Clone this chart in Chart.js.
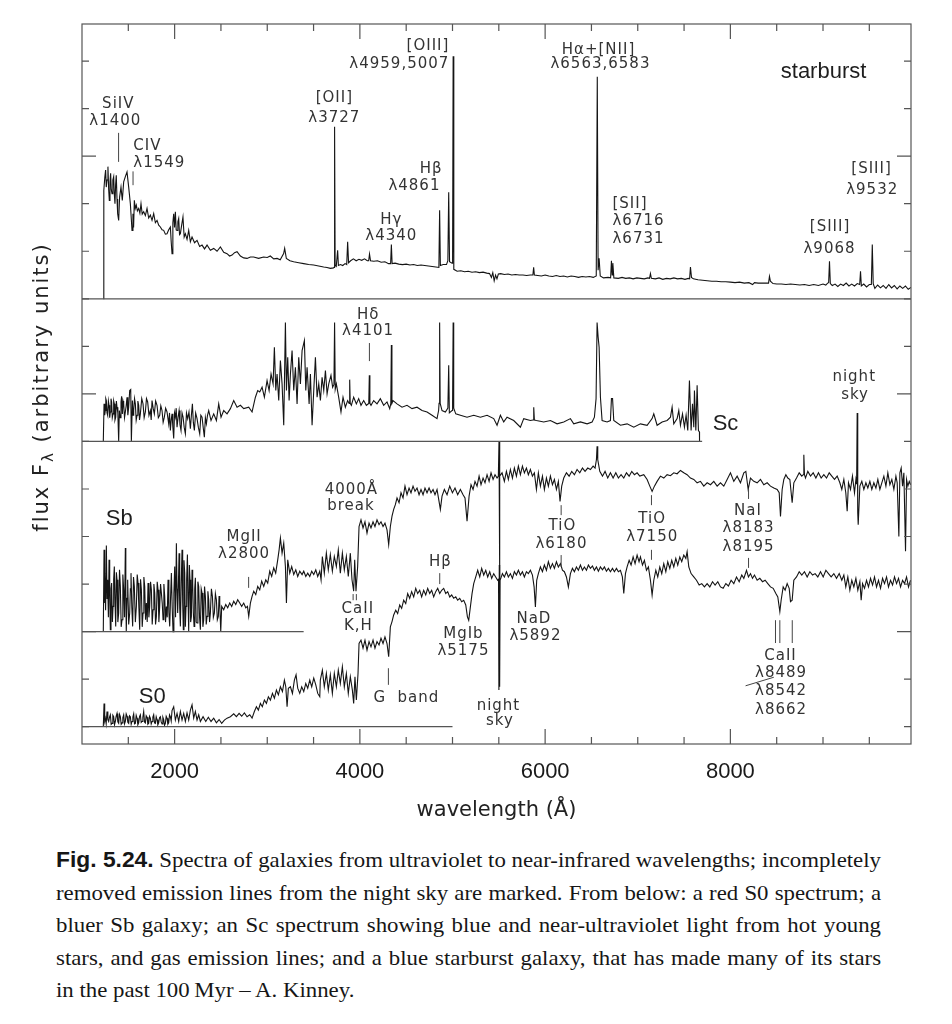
<!DOCTYPE html>
<html>
<head>
<meta charset="utf-8">
<title>Spectra of galaxies</title>
<script src="https://cdn.jsdelivr.net/npm/chart.js@4.4.0/dist/chart.umd.min.js"></script>
<style>
html, body { margin: 0; padding: 0; background: #fff; }
#wrap { position: relative; width: 952px; height: 1024px; overflow: hidden; }
#chart { position: absolute; left: 0; top: 0; }
#caption { position: absolute; left: 56px; top: 844px; font-family: 'Liberation Serif', 'Times New Roman', serif; font-size: 22px; line-height: 32.5px; color: #161616; }
#caption div { transform-origin: 0 0; white-space: nowrap; display: block; }
#caption span.ln { display: inline-block; }
#caption b { font-family: 'Liberation Sans', Arial, sans-serif; font-weight: bold; }
</style>
</head>
<body>
<div id="wrap">
  <canvas id="chart" width="952" height="830"></canvas>
  <div id="caption">
    <div><span class="ln"><b>Fig. 5.24.</b> Spectra of galaxies from ultraviolet to near-infrared wavelengths; incompletely</span></div>
    <div><span class="ln">removed emission lines from the night sky are marked. From below: a red S0 spectrum; a</span></div>
    <div><span class="ln">bluer Sb galaxy; an Sc spectrum showing blue and near-ultraviolet light from hot young</span></div>
    <div><span class="ln">stars, and gas emission lines; and a blue starburst galaxy, that has made many of its stars</span></div>
    <div><span class="ln last">in the past 100&#8201;Myr – A. Kinney.</span></div>
  </div>
</div>
<script>
// wavelength (Angstrom), flux above each spectrum's own baseline (arbitrary units)
const starburst = [
  [1230,0],[1234,0],[1237,2.28],[1246,2.55],[1255,2.71],[1262,2.35],[1270,2.50],[1280,2.78],[1288,2.30],[1295,2.07],
  [1302,2.45],[1309,2.64],[1316,2.30],[1324,2.21],[1333,2.50],[1342,2.57],[1349,2.20],[1356,2.00],[1363,2.40],[1370,2.60],
  [1378,2.10],[1385,1.79],[1396,1.65],[1406,2.14],[1421,2.35],[1435,2.07],[1450,2.46],[1468,2.57],[1486,2.67],[1504,2.35],
  [1522,2.00],[1540,1.44],[1550,1.79],[1557,1.50],[1565,2.07],[1575,1.90],[1586,1.97],[1598,1.85],[1612,1.90],[1625,1.80],
  [1637,2.00],[1650,1.78],[1666,1.83],[1684,1.75],[1702,1.90],[1720,1.70],[1738,1.76],[1756,1.65],[1774,1.79],[1792,1.60],
  [1810,1.65],[1828,1.55],[1846,1.51],[1864,1.45],[1882,1.44],[1900,1.36],[1918,1.37],[1936,1.45],[1954,1.51],[1963,1.20],
  [1972,0.95],[1981,1.60],[1990,1.79],[1999,1.50],[2008,1.83],[2017,1.45],[2026,1.44],[2035,1.62],[2044,1.69],[2053,1.35],
  [2062,1.37],[2076,1.55],[2090,1.72],[2103,1.30],[2116,1.37],[2134,1.25],[2152,1.44],[2170,1.20],[2188,1.30],[2215,1.18],
  [2242,1.23],[2270,1.10],[2296,1.13],[2323,1.05],[2350,1.13],[2386,1.02],[2422,1.06],[2458,1.00],[2494,1.09],[2530,0.98],
  [2566,0.95],[2593,0.90],[2620,0.92],[2647,0.97],[2674,0.99],[2710,0.90],[2746,0.86],[2782,0.85],[2818,0.88],[2853,0.88],
  [2907,0.85],[2961,0.88],[3000,0.87],[3033,0.90],[3070,0.84],[3106,0.85],[3140,0.82],[3177,0.95],[3188,1.06],[3206,0.85],
  [3245,0.80],[3285,0.78],[3340,0.76],[3393,0.74],[3447,0.72],[3501,0.71],[3555,0.69],[3609,0.67],[3645,0.66],[3681,0.64],
  [3715,0.65],[3721,0.66],[3727,3.62],[3733,0.70],[3745,0.68],[3760,1.02],[3768,0.70],[3790,0.72],[3815,0.70],[3840,0.74],
  [3858,0.72],[3868,1.20],[3878,0.76],[3900,0.80],[3930,0.84],[3960,0.80],[3990,0.83],[4020,0.81],[4050,0.84],[4080,0.80],
  [4095,0.80],[4104,0.94],[4115,0.80],[4150,0.79],[4190,0.80],[4230,0.77],[4270,0.78],[4310,0.74],[4332,0.74],[4340,1.14],
  [4348,0.74],[4380,0.75],[4420,0.73],[4460,0.72],[4500,0.73],[4540,0.71],[4580,0.72],[4620,0.70],[4660,0.71],[4700,0.70],
  [4740,0.69],[4780,0.68],[4820,0.67],[4853,0.66],[4861,1.86],[4869,0.70],[4900,0.72],[4935,0.72],[4950,0.80],[4959,2.24],
  [4968,0.78],[4995,0.75],[5001,0.80],[5007,5.10],[5014,0.62],[5050,0.58],[5090,0.59],[5130,0.57],[5170,0.58],[5210,0.56],
  [5250,0.57],[5290,0.55],[5330,0.56],[5370,0.54],[5400,0.53],[5420,0.45],[5435,0.55],[5450,0.38],[5465,0.50],[5480,0.42],
  [5495,0.52],[5520,0.53],[5560,0.51],[5600,0.52],[5640,0.50],[5680,0.51],[5720,0.50],[5760,0.50],[5800,0.49],[5840,0.50],
  [5868,0.50],[5876,0.66],[5884,0.50],[5920,0.49],[5960,0.48],[6000,0.50],[6040,0.48],[6080,0.47],[6120,0.49],[6160,0.47],
  [6200,0.48],[6240,0.46],[6280,0.48],[6320,0.47],[6360,0.45],[6400,0.47],[6440,0.46],[6480,0.47],[6520,0.45],[6552,0.48],
  [6563,4.67],[6572,0.60],[6583,0.85],[6595,0.48],[6630,0.44],[6680,0.45],[6707,0.44],[6716,0.80],[6724,0.50],[6731,0.75],
  [6742,0.44],[6790,0.43],[6830,0.45],[6870,0.43],[6910,0.44],[6950,0.42],[6990,0.44],[7030,0.43],[7070,0.42],[7110,0.44],
  [7127,0.43],[7137,0.53],[7147,0.43],[7190,0.42],[7230,0.44],[7270,0.41],[7310,0.43],[7350,0.42],[7390,0.44],[7430,0.42],
  [7470,0.43],[7510,0.41],[7545,0.43],[7560,0.42],[7569,0.67],[7580,0.45],[7600,0.42],[7650,0.40],[7700,0.39],[7750,0.38],
  [7800,0.37],[7850,0.37],[7900,0.36],[7950,0.36],[8000,0.35],[8050,0.34],[8100,0.35],[8150,0.33],[8200,0.34],[8240,0.30],
  [8260,0.34],[8300,0.33],[8350,0.33],[8400,0.33],[8412,0.33],[8422,0.47],[8432,0.37],[8460,0.32],[8500,0.31],[8550,0.31],
  [8600,0.30],[8650,0.31],[8700,0.30],[8750,0.29],[8800,0.30],[8850,0.28],[8900,0.30],[8950,0.28],[9000,0.31],[9030,0.29],
  [9050,0.33],[9061,0.34],[9070,0.79],[9079,0.32],[9100,0.28],[9130,0.31],[9160,0.26],[9190,0.31],[9220,0.28],[9250,0.33],
  [9280,0.27],[9310,0.31],[9340,0.27],[9370,0.32],[9396,0.30],[9405,0.58],[9414,0.27],[9440,0.31],[9470,0.25],[9500,0.30],
  [9522,0.30],[9532,1.14],[9542,0.32],[9560,0.22],[9590,0.29],[9620,0.23],[9650,0.28],[9680,0.22],[9710,0.30],[9740,0.23],
  [9770,0.28],[9800,0.21],[9830,0.27],[9860,0.22],[9890,0.27],[9920,0.20],[9950,0.24]
];

const sc = [
  [1230,0],[1234,0],[1238,0.79],[1245,0.55],[1252,0.65],[1257,0.90],[1263,0.86],[1270,0.60],[1277,0.55],[1285,0.85],
  [1292,0.76],[1299,0.50],[1306,0.62],[1313,0.90],[1320,0.83],[1327,0.50],[1335,0.58],[1342,0.85],[1349,0.79],[1356,0.45],
  [1364,0.51],[1371,0.85],[1378,0.72],[1387,0.60],[1396,0],[1403,0.65],[1412,0.50],[1421,0.83],[1428,0.95],[1436,0.58],
  [1443,0.85],[1450,0.79],[1459,0.50],[1468,0.62],[1477,0.75],[1486,0.93],[1495,0.55],[1504,0.72],[1515,1.07],[1526,1.09],
  [1533,0],[1544,0.86],[1551,0.55],[1558,0.65],[1567,0.90],[1576,0.79],[1585,0.45],[1594,0.55],[1603,0.85],[1612,0.76],
  [1621,0.45],[1630,0.58],[1645,0.90],[1659,0.79],[1671,0.50],[1684,0.62],[1696,0.90],[1709,0.83],[1723,0.55],[1738,0.65],
  [1747,0.45],[1756,0.86],[1768,0.70],[1781,0.58],[1795,0.85],[1810,0.76],[1824,0.50],[1839,0.55],[1851,0.75],[1864,0.65],
  [1876,0.40],[1889,0.51],[1903,0.70],[1918,0.62],[1936,0.37],[1945,0.60],[1954,0.23],[1963,0.45],[1972,0.58],[1981,0.30],
  [1990,0.06],[1999,0.60],[2008,0.51],[2017,0.70],[2026,0.30],[2037,0.50],[2048,0.65],[2058,0.35],[2069,0.23],[2080,0.60],
  [2091,0.51],[2103,0.30],[2116,0.16],[2128,0.60],[2141,0.48],[2155,0.62],[2170,0.27],[2181,0.55],[2192,0.79],[2202,0.40],
  [2213,0.23],[2227,0.60],[2242,0.48],[2256,0.30],[2271,0.16],[2283,0.55],[2296,0.51],[2308,0.30],[2321,0.09],[2332,0.50],
  [2343,0.37],[2355,0.55],[2368,0.65],[2393,0.44],[2422,0.58],[2451,0.44],[2476,0.79],[2501,0.51],[2530,0.65],[2566,0.58],
  [2602,0.69],[2638,0.86],[2674,0.72],[2710,0.76],[2746,0.69],[2800,0.72],[2836,0.62],[2872,0.93],[2897,1.07],[2919,1.04],
  [2944,1.14],[2969,0.93],[2998,1.28],[3020,1.07],[3041,1.42],[3063,1.21],[3077,1.98],[3092,1.07],[3106,1.42],[3124,0.86],
  [3142,1.70],[3160,1.21],[3178,0.34],[3196,2.50],[3207,1.07],[3221,1.77],[3236,0.86],[3250,1.42],[3268,1.91],[3286,1.07],
  [3304,1.56],[3322,0.79],[3340,1.77],[3358,1.21],[3376,1.91],[3401,2.12],[3416,1.07],[3430,1.56],[3452,0.79],[3466,1.42],
  [3484,0.34],[3502,1.07],[3520,1.77],[3538,0.93],[3556,1.21],[3574,0.86],[3592,1.35],[3610,1.07],[3628,1.49],[3646,1.00],
  [3664,1.21],[3688,1.39],[3706,1.14],[3720,1.20],[3727,2.50],[3734,1.10],[3746,1.21],[3771,0.93],[3796,0.62],[3818,0.93],
  [3843,0.72],[3868,0.86],[3884,0.80],[3890,1.30],[3896,0.80],[3908,0.76],[3933,0.93],[3962,0.79],[3987,0.90],[4012,0.76],
  [4041,0.86],[4070,0.76],[4096,0.80],[4102,1.39],[4108,0.80],[4120,0.76],[4149,0.86],[4185,0.79],[4221,0.90],[4257,0.76],
  [4293,0.83],[4322,0.69],[4334,0.80],[4340,2.03],[4346,0.80],[4358,0.86],[4401,0.79],[4455,0.72],[4509,0.76],[4563,0.69],
  [4617,0.72],[4671,0.65],[4725,0.62],[4779,0.55],[4833,0.48],[4850,0.65],[4855,0.80],[4861,2.50],[4867,0.80],[4887,0.65],
  [4923,0.62],[4950,0.70],[4959,1.60],[4966,0.60],[4995,0.65],[5001,0.80],[5007,2.50],[5013,0.70],[5035,0.58],[5085,0.55],
  [5157,0.51],[5229,0.55],[5301,0.51],[5373,0.55],[5445,0.48],[5481,0.34],[5517,0.55],[5553,0.41],[5589,0.51],[5661,0.44],
  [5733,0.30],[5769,0.48],[5841,0.44],[5870,0.45],[5877,0.72],[5884,0.45],[5906,0.44],[5985,0.41],[6057,0.44],[6129,0.37],
  [6201,0.41],[6273,0.48],[6309,0.37],[6381,0.41],[6453,0.37],[6507,0.41],[6532,0.51],[6550,0.90],[6561,2.50],[6572,2.20],
  [6583,1.98],[6597,0.93],[6615,0.44],[6669,0.41],[6705,0.44],[6716,0.90],[6728,0.90],[6741,0.44],[6813,0.34],[6885,0.37],
  [6957,0.30],[7029,0.37],[7101,0.34],[7155,0.48],[7173,0.58],[7209,0.34],[7263,0.41],[7317,0.44],[7353,0.51],[7371,0.72],
  [7389,0.37],[7425,0.48],[7443,0.65],[7461,0.34],[7483,0.58],[7504,0.30],[7522,0.55],[7540,0.23],[7558,1.28],[7576,0.23],
  [7591,0.79],[7605,0.30],[7612,1.07],[7627,0.23],[7641,1.18],[7655,0.23],[7666,0.20],[7667,0]
];

const sb = [
  [1230,0],[1234,0],[1238,1.72],[1243,0.60],[1248,1.23],[1255,0.45],[1263,1.81],[1270,0.70],[1277,1.09],[1285,0.30],
  [1292,1.51],[1299,0.80],[1306,0.04],[1313,0.90],[1320,1.02],[1328,0.20],[1335,0.53],[1342,1.10],[1349,1.37],[1357,0.60],
  [1364,0.11],[1371,1.25],[1378,1.09],[1387,0.20],[1396,0.39],[1405,1.30],[1414,0.95],[1423,0.10],[1432,0.25],[1441,1.20],
  [1450,0.88],[1459,0.30],[1468,1.76],[1473,0.90],[1478,0],[1486,0.70],[1493,1.09],[1504,0.15],[1515,0.39],[1522,0.90],
  [1529,1.23],[1538,0.50],[1547,0.11],[1556,1.15],[1565,0.95],[1576,0.20],[1587,0.53],[1596,1.20],[1605,1.02],[1614,0.50],
  [1623,0.04],[1632,1.10],[1641,0.88],[1650,0.10],[1659,0.39],[1668,1.15],[1677,0.95],[1686,0.25],[1695,0.60],[1704,0.20],
  [1713,1.02],[1722,0.30],[1731,0.53],[1740,1.05],[1749,0.88],[1758,0.15],[1767,0.46],[1776,1.00],[1785,0.81],[1794,0.15],
  [1803,0.32],[1812,1.05],[1821,0.88],[1830,0.20],[1839,0.53],[1848,1.00],[1857,0.81],[1866,0.60],[1875,0.25],[1884,1.00],
  [1893,0.74],[1902,0.20],[1911,0.53],[1920,0.30],[1929,1.09],[1938,0.40],[1947,0.11],[1956,0.70],[1965,1.23],[1974,0.50],
  [1983,0],[1992,0.80],[2001,1.37],[2010,0.30],[2019,1.86],[2026,0.90],[2033,0.39],[2040,0.90],[2048,1.65],[2055,0.50],
  [2062,0.11],[2071,1.00],[2080,1.72],[2087,0.60],[2094,0.04],[2101,1.50],[2109,1.23],[2116,0.10],[2123,0.53],[2130,1.10],
  [2138,1.62],[2145,0.70],[2152,0],[2159,1.40],[2166,1.09],[2173,0.20],[2181,0.32],[2188,1.30],[2195,1.02],[2202,0.40],
  [2210,0.11],[2217,0.90],[2224,1.13],[2233,0.20],[2242,0.18],[2251,1.05],[2260,0.95],[2269,0.30],[2278,0.04],[2287,0.90],
  [2296,0.81],[2305,0.10],[2314,0.25],[2323,0.95],[2332,0.74],[2341,0.15],[2350,0.32],[2359,0.85],[2368,0.67],[2377,0.20],
  [2386,0.39],[2397,0.90],[2408,0.74],[2418,0.30],[2429,0.39],[2440,0.80],[2451,0.67],[2461,0.25],[2472,0.32],[2480,0.75],
  [2487,0.60],[2498,0],[2508,0.53],[2530,0.46],[2552,0.57],[2573,0.50],[2595,0.60],[2616,0.53],[2638,0.64],[2660,0.57],
  [2681,0.67],[2703,0.60],[2724,0.53],[2746,0.60],[2768,0.50],[2786,0.53],[2800,0.32],[2818,0.60],[2836,0.74],[2854,0.85],
  [2876,0.78],[2897,0.95],[2919,0.88],[2940,1.06],[2962,0.95],[2984,1.09],[3005,1.02],[3027,1.27],[3048,1.16],[3070,1.34],
  [3091,1.23],[3113,1.51],[3128,1.72],[3142,1.97],[3160,1.65],[3178,1.86],[3196,1.37],[3207,0.60],[3221,1.51],[3243,1.23],
  [3264,1.37],[3286,1.20],[3308,1.30],[3329,1.16],[3351,1.27],[3376,1.20],[3394,1.27],[3416,1.16],[3437,1.23],[3459,1.16],
  [3480,1.27],[3502,1.20],[3524,1.30],[3545,1.16],[3567,1.27],[3581,1.09],[3595,1.58],[3616,1.23],[3638,1.65],[3659,1.30],
  [3681,1.62],[3703,1.27],[3724,1.58],[3746,1.37],[3767,1.72],[3789,1.23],[3811,1.65],[3832,1.30],[3854,1.58],[3875,1.16],
  [3897,1.65],[3915,1.09],[3933,0.85],[3944,1.51],[3958,0.85],[3976,1.37],[3991,2.21],[4012,2.35],[4034,2.18],[4055,2.31],
  [4077,2.07],[4099,2.28],[4120,2.18],[4142,2.31],[4163,2.21],[4185,2.35],[4207,2.25],[4228,2.31],[4250,2.21],[4271,2.28],
  [4293,2.14],[4311,1.83],[4329,2.21],[4347,2.43],[4365,2.57],[4383,2.67],[4401,2.81],[4423,2.71],[4444,2.92],[4466,2.81],
  [4487,3.06],[4509,2.88],[4531,3.02],[4552,2.92],[4574,3.06],[4595,2.95],[4617,3.02],[4639,2.88],[4660,2.99],[4682,2.88],
  [4703,3.02],[4725,2.92],[4747,3.02],[4768,2.92],[4790,2.99],[4811,2.88],[4833,2.99],[4851,2.78],[4869,2.57],[4887,2.85],
  [4912,2.99],[4941,2.88],[4970,3.06],[4999,2.92],[5027,3.02],[5056,2.88],[5085,2.99],[5114,2.88],[5135,2.81],[5157,2.32],
  [5179,2.85],[5200,3.09],[5222,2.99],[5243,3.16],[5265,3.06],[5287,3.27],[5308,3.09],[5330,3.23],[5351,3.13],[5373,3.30],
  [5395,3.16],[5416,3.34],[5438,3.20],[5459,3.30],[5481,3.23],[5495,3.27],[5502,4.00],[5507,1.15],[5512,3.27],[5535,3.34],
  [5560,3.16],[5582,3.37],[5603,3.20],[5625,3.41],[5647,3.23],[5668,3.44],[5690,3.27],[5711,3.48],[5733,3.30],[5755,3.48],
  [5776,3.34],[5798,3.44],[5819,3.30],[5841,3.41],[5863,3.27],[5884,3.34],[5906,2.99],[5927,3.34],[5949,3.06],[5971,3.27],
  [5992,2.99],[6014,3.23],[6035,3.06],[6057,3.27],[6079,3.09],[6100,3.20],[6122,2.99],[6143,3.16],[6161,2.74],[6179,3.06],
  [6201,3.23],[6230,3.34],[6259,3.27],[6287,3.37],[6316,3.30],[6345,3.41],[6374,3.34],[6403,3.44],[6431,3.37],[6460,3.44],
  [6489,3.41],[6518,3.48],[6539,3.44],[6554,3.62],[6561,3.90],[6568,3.62],[6590,3.37],[6619,3.27],[6647,3.37],[6676,3.23],
  [6705,3.34],[6734,3.23],[6763,3.34],[6791,3.23],[6820,3.30],[6849,3.23],[6878,3.34],[6907,3.27],[6935,3.37],[6964,3.30],
  [6993,3.34],[7022,3.27],[7065,3.30],[7101,3.20],[7130,3.06],[7155,2.95],[7180,3.06],[7209,3.16],[7245,3.27],[7281,3.23],
  [7317,3.30],[7353,3.28],[7389,3.34],[7425,3.32],[7461,3.39],[7497,3.34],[7533,3.30],[7569,3.23],[7605,3.20],[7641,3.13],
  [7677,3.16],[7713,3.06],[7749,3.13],[7785,3.09],[7821,3.16],[7857,3.06],[7893,3.13],[7929,3.06],[7965,3.20],[8001,3.34],
  [8037,3.16],[8073,3.27],[8109,3.13],[8145,3.34],[8167,3.37],[8192,2.99],[8217,3.23],[8253,3.16],[8289,3.13],[8325,3.20],
  [8361,3.09],[8397,3.13],[8433,3.06],[8469,3.02],[8505,2.99],[8527,2.92],[8541,2.42],[8559,2.99],[8577,3.20],[8599,3.30],
  [8620,3.23],[8642,3.20],[8667,2.71],[8685,3.13],[8714,3.23],[8743,3.34],[8771,3.27],[8786,3.30],[8793,3.72],[8800,3.30],
  [8811,3.23],[8836,3.37],[8865,3.27],[8894,3.34],[8923,3.23],[8951,3.34],[8980,3.23],[9009,3.30],[9038,3.23],[9067,3.34],
  [9095,3.27],[9124,3.20],[9153,3.27],[9182,3.13],[9203,2.99],[9225,3.20],[9246,2.92],[9261,2.53],[9275,3.13],[9297,2.99],
  [9318,3.27],[9340,2.92],[9355,3.20],[9363,3.10],[9369,4.60],[9375,2.50],[9380,2.25],[9398,3.06],[9419,3.16],[9441,2.99],
  [9463,3.13],[9484,3.02],[9506,3.16],[9527,2.99],[9549,3.13],[9571,3.02],[9592,3.20],[9614,2.99],[9635,3.13],[9657,3.27],
  [9679,3.06],[9700,3.34],[9722,3.09],[9743,3.20],[9765,2.99],[9787,3.27],[9801,3.13],[9819,2.00],[9830,3.34],[9844,3.44],
  [9859,3.06],[9873,3.34],[9891,1.69],[9902,3.20],[9916,3.06],[9931,3.16],[9945,3.09]
];

const s0 = [
  [1230,0],[1234,0],[1238,0.49],[1245,0.12],[1252,0.18],[1261,0.06],[1270,0.32],[1279,0.15],[1288,0.11],[1297,0.20],
  [1306,0.25],[1315,0.05],[1324,0.07],[1333,0.24],[1342,0.21],[1351,0.04],[1360,0.11],[1369,0.22],[1378,0.28],[1387,0.10],
  [1396,0.07],[1405,0.26],[1414,0.21],[1423,0.05],[1432,0.08],[1441,0.19],[1450,0.25],[1459,0.06],[1468,0.11],[1477,0.27],
  [1486,0.22],[1495,0.09],[1504,0.07],[1513,0.23],[1522,0.21],[1531,0.05],[1540,0.11],[1549,0.20],[1558,0.27],[1567,0.06],
  [1576,0.07],[1585,0.24],[1594,0.18],[1603,0.04],[1612,0.08],[1621,0.21],[1630,0.25],[1639,0.09],[1648,0.11],[1657,0.20],
  [1666,0.32],[1675,0.10],[1684,0.08],[1693,0.23],[1702,0.20],[1711,0.05],[1720,0.07],[1729,0.22],[1738,0.18],[1747,0.06],
  [1756,0.11],[1765,0.20],[1774,0.25],[1783,0.08],[1792,0.07],[1801,0.21],[1810,0.15],[1819,0.04],[1828,0.08],[1837,0.19],
  [1846,0.21],[1855,0.10],[1864,0.06],[1873,0.20],[1882,0.15],[1891,0.03],[1900,0.07],[1909,0.22],[1918,0.18],[1927,0.05],
  [1936,0.08],[1945,0.25],[1954,0.21],[1963,0.12],[1972,0.34],[1990,0.42],[2008,0.14],[2026,0.28],[2044,0.11],[2062,0.32],
  [2080,0.14],[2098,0.28],[2116,0.11],[2134,0.29],[2152,0.14],[2170,0.35],[2188,0.46],[2206,0.18],[2224,0.32],[2242,0.14],
  [2260,0.25],[2278,0.11],[2307,0.21],[2336,0.11],[2364,0.20],[2393,0.11],[2422,0.18],[2451,0.08],[2480,0.15],[2508,0.07],
  [2537,0.14],[2566,0.18],[2602,0.21],[2638,0.27],[2667,0.21],[2696,0.28],[2724,0.22],[2753,0.29],[2782,0.21],[2811,0.25],
  [2836,0.18],[2861,0.32],[2883,0.42],[2904,0.35],[2926,0.49],[2947,0.42],[2969,0.56],[2991,0.49],[3012,0.63],[3034,0.56],
  [3056,0.70],[3077,0.60],[3099,0.77],[3120,0.67],[3142,0.84],[3164,0.74],[3185,0.98],[3200,0.84],[3214,0.42],[3228,0.81],
  [3250,0.84],[3272,0.70],[3293,0.98],[3311,1.09],[3329,0.81],[3351,0.70],[3372,0.84],[3394,0.74],[3416,0.91],[3437,0.81],
  [3459,0.98],[3480,0.84],[3502,1.02],[3524,0.88],[3545,0.70],[3567,0.63],[3573,0.98],[3595,1.19],[3616,0.84],[3638,1.12],
  [3659,0.77],[3681,1.09],[3703,0.70],[3724,1.12],[3746,0.84],[3767,1.19],[3789,0.91],[3811,1.26],[3832,0.84],[3854,1.12],
  [3875,0.70],[3897,1.05],[3919,0.77],[3933,0.49],[3947,1.05],[3962,0.56],[3980,1.12],[3991,1.75],[4012,1.82],[4034,1.65],
  [4055,1.82],[4077,1.61],[4099,1.79],[4120,1.68],[4142,1.82],[4163,1.65],[4185,1.79],[4207,1.72],[4228,1.86],[4250,1.75],
  [4271,1.89],[4293,1.75],[4311,1.47],[4329,2.10],[4347,2.21],[4365,2.35],[4387,2.45],[4408,2.38],[4430,2.56],[4451,2.49],
  [4473,2.66],[4495,2.59],[4516,2.80],[4538,2.70],[4559,2.84],[4581,2.73],[4603,2.91],[4624,2.80],[4646,2.87],[4667,2.73],
  [4689,2.87],[4711,2.77],[4732,2.91],[4754,2.80],[4775,2.87],[4797,2.73],[4819,2.84],[4840,2.91],[4862,2.80],[4883,2.87],
  [4905,2.91],[4927,2.80],[4948,2.84],[4970,2.73],[4991,2.77],[5013,2.70],[5035,2.73],[5056,2.66],[5078,2.70],[5099,2.63],
  [5121,2.66],[5143,2.56],[5161,2.31],[5175,2.24],[5193,2.52],[5211,2.80],[5229,3.01],[5251,3.15],[5272,3.29],[5294,3.15],
  [5315,3.33],[5337,3.19],[5359,3.29],[5380,3.15],[5402,3.26],[5423,3.12],[5445,3.22],[5466,3.15],[5488,3.08],[5497,3.10],
  [5501,0.77],[5505,3.40],[5509,0.84],[5514,3.08],[5539,3.22],[5560,3.15],[5582,3.26],[5603,3.15],[5625,3.22],[5647,3.12],
  [5668,3.26],[5690,3.19],[5711,3.29],[5733,3.19],[5755,3.26],[5776,3.15],[5798,3.26],[5819,3.22],[5841,3.29],[5863,3.19],
  [5881,2.94],[5895,2.52],[5909,3.08],[5927,3.22],[5949,3.36],[5971,3.26],[5992,3.40],[6014,3.29],[6035,3.47],[6057,3.33],
  [6079,3.43],[6100,3.33],[6122,3.47],[6143,3.36],[6165,3.43],[6187,3.29],[6208,3.26],[6230,3.15],[6251,2.94],[6273,3.22],
  [6295,3.33],[6316,3.26],[6338,3.36],[6359,3.29],[6381,3.40],[6403,3.29],[6424,3.36],[6446,3.29],[6467,3.40],[6489,3.33],
  [6511,3.38],[6532,3.29],[6554,3.36],[6575,3.27],[6597,3.36],[6619,3.30],[6640,3.36],[6662,3.27],[6683,3.33],[6705,3.26],
  [6727,3.33],[6748,3.26],[6770,3.33],[6791,3.26],[6813,3.29],[6834,3.15],[6849,2.80],[6867,3.22],[6885,3.36],[6907,3.50],
  [6928,3.40],[6950,3.57],[6971,3.43],[6993,3.61],[7014,3.47],[7029,3.57],[7051,3.40],[7072,3.50],[7094,3.29],[7115,3.36],
  [7137,3.08],[7155,2.77],[7173,3.08],[7195,3.29],[7216,3.15],[7238,3.36],[7259,3.22],[7281,3.43],[7303,3.26],[7324,3.47],
  [7346,3.33],[7367,3.50],[7389,3.36],[7411,3.54],[7432,3.40],[7454,3.57],[7475,3.47],[7497,3.61],[7519,3.54],[7533,3.68],
  [7551,3.36],[7576,3.22],[7605,3.15],[7634,3.08],[7663,2.98],[7691,3.01],[7720,2.94],[7749,3.01],[7778,2.94],[7807,3.05],
  [7835,2.98],[7864,3.05],[7893,2.94],[7922,2.91],[7951,3.01],[7979,2.96],[8008,3.08],[8037,3.01],[8066,3.15],[8095,3.05],
  [8123,3.19],[8145,3.12],[8174,3.29],[8195,3.15],[8217,3.22],[8239,3.12],[8260,3.19],[8289,3.08],[8318,3.12],[8347,3.05],
  [8375,3.08],[8404,3.01],[8433,2.94],[8462,2.91],[8491,2.80],[8512,2.73],[8534,2.42],[8548,2.66],[8570,2.94],[8591,2.87],
  [8613,3.01],[8635,2.91],[8649,2.63],[8667,2.66],[8685,3.08],[8714,3.15],[8743,3.26],[8771,3.19],[8800,3.26],[8829,3.15],
  [8858,3.26],[8887,3.19],[8915,3.22],[8944,3.15],[8973,3.26],[9002,3.15],[9031,3.29],[9059,3.22],[9088,3.15],[9117,3.22],
  [9146,3.12],[9175,3.22],[9203,3.08],[9225,3.19],[9246,2.94],[9268,3.15],[9290,2.87],[9311,3.08],[9333,2.94],[9355,3.12],
  [9376,2.87],[9398,3.05],[9412,2.66],[9427,3.01],[9448,2.91],[9470,3.08],[9491,2.94],[9513,3.12],[9535,2.98],[9556,3.15],
  [9578,2.94],[9599,3.08],[9621,2.91],[9643,3.12],[9664,3.01],[9686,3.15],[9707,2.94],[9729,3.08],[9751,2.98],[9772,3.15],
  [9794,3.01],[9815,3.12],[9837,2.94],[9859,3.08],[9880,3.01],[9902,3.15],[9923,2.94],[9945,3.08]
];

// where each spectrum's zero line runs to (Angstrom)
const baseEnd = { starburst: 9950, sc: 7695, sb: 3393, s0: 5000 };
// vertical shift of each spectrum on the shared flux axis
const offsets = { starburst: 9, sc: 6, sb: 2, s0: 0 };

const xTicks = [1500,2000,2500,3000,3500,4000,4500,5000,5500,6000,6500,7000,7500,8000,8500,9000,9500];
const xLabels = [2000, 4000, 6000, 8000];
const yTicks = [0,1,2,3,4,5,6,7,8,9,10,11,12,13,14];
const yLong = [2, 7, 12];

// line identifications: text, wavelength, flux-axis position, alignment
const notes = [
  ['SiIV', 1392, 13.09], ['λ1400', 1360, 12.74],
  ['CIV', 1554, 12.21, 'left'], ['λ1549', 1554, 11.85, 'left'],
  ['[OII]', 3724, 13.23], ['λ3727', 3724, 12.81],
  ['[OIII]', 4966, 14.32, 'right'], ['λ4959,5007', 4966, 13.94, 'right'],
  ['Hβ', 4769, 11.73], ['λ4861', 4589, 11.36],
  ['Hγ', 4340, 10.65], ['λ4340', 4340, 10.32],
  ['Hα+[NII]', 6576, 14.23], ['λ6563,6583', 6597, 13.94],
  ['[SII]', 6727, 11.00, 'left'], ['λ6716', 6727, 10.63, 'left'], ['λ6731', 6727, 10.25, 'left'],
  ['[SIII]', 9524, 11.72], ['λ9532', 9531, 11.28],
  ['[SIII]', 9076, 10.50], ['λ9068', 9070, 10.05],
  ['Hδ', 4089, 8.66], ['λ4101', 4089, 8.31],
  ['night', 9337, 7.35], ['sky', 9346, 6.98],
  ['4000Å', 3908, 4.98], ['break', 3903, 4.64],
  ['MgII', 2750, 3.98], ['λ2800', 2750, 3.62],
  ['CaII', 3978, 2.47], ['K,H', 3984, 2.11],
  ['Hβ', 4869, 3.46],
  ['TiO', 6187, 4.22], ['λ6180', 6176, 3.85],
  ['MgIb', 5118, 1.95], ['λ5175', 5118, 1.59],
  ['NaD', 5879, 2.26], ['λ5892', 5895, 1.90],
  ['G  band', 4502, 0.60],
  ['night', 5496, 0.44], ['sky', 5512, 0.11],
  ['TiO', 7156, 4.37], ['λ7150', 7156, 3.99],
  ['NaI', 8190, 4.54], ['λ8183', 8196, 4.17], ['λ8195', 8196, 3.78],
  ['CaII', 8541, 1.49], ['λ8489', 8547, 1.12], ['λ8542', 8547, 0.74], ['λ8662', 8547, 0.35]
];
const names = [['starburst', 9006, 13.64], ['Sc', 7947, 6.24], ['Sb', 1403, 4.24], ['S0', 1759, 0.50]];
// short marker strokes: wavelength, from, to
const marks = [
  [1395, 12.49, 11.88], [1551, 11.68, 11.39], [4103, 8.07, 7.69], [2799, 3.15, 2.92],
  [3927, 2.79, 2.66], [3962, 2.79, 2.66], [4862, 3.23, 3.00], [6173, 4.66, 4.45], [6173, 3.61, 3.36],
  [4308, 1.23, 0.88], [7148, 4.87, 4.66], [7148, 3.72, 3.51], [8196, 5.00, 4.79], [8196, 3.55, 3.34],
  [8487, 2.24, 1.76], [8534, 2.24, 1.76], [8668, 2.24, 1.76]
];

function pts(pairs, off) {
  return pairs.map(p => ({ x: p[0], y: p[1] + off }));
}
function base(end, off) {
  return [{ x: 1000, y: off }, { x: end, y: off }];
}
function line(data) {
  return { data: data, borderColor: '#141414', borderWidth: 1.1, pointRadius: 0, tension: 0, fill: false };
}
function baseLine(data) {
  return { data: data, borderColor: '#555', borderWidth: 1.2, pointRadius: 0, tension: 0, fill: false };
}

const decor = {
  id: 'decor',
  afterDraw(chart) {
    const { ctx, chartArea: a, scales: { x, y } } = chart;
    ctx.save();
    ctx.strokeStyle = '#555';
    ctx.lineWidth = 1.2;
    ctx.strokeRect(a.left, a.top, a.right - a.left, a.bottom - a.top);
    ctx.beginPath();
    xTicks.forEach(v => {
      const px = x.getPixelForValue(v);
      const len = xLabels.includes(v) ? 15 : 7;
      ctx.moveTo(px, a.top); ctx.lineTo(px, a.top + len);
      ctx.moveTo(px, a.bottom); ctx.lineTo(px, a.bottom - len);
    });
    yTicks.forEach(v => {
      const py = y.getPixelForValue(v);
      const len = yLong.includes(v) ? 14 : 7;
      ctx.moveTo(a.left, py); ctx.lineTo(a.left + len, py);
      ctx.moveTo(a.right, py); ctx.lineTo(a.right - len, py);
    });
    ctx.stroke();

    // marker strokes
    ctx.strokeStyle = '#444';
    ctx.lineWidth = 1;
    ctx.beginPath();
    marks.forEach(m => {
      const px = x.getPixelForValue(m[0]);
      ctx.moveTo(px, y.getPixelForValue(m[1]));
      ctx.lineTo(px, y.getPixelForValue(m[2]));
    });
    ctx.moveTo(x.getPixelForValue(8164), y.getPixelForValue(0.86));
    ctx.lineTo(x.getPixelForValue(8469), y.getPixelForValue(1.04));
    ctx.stroke();

    // line identifications
    ctx.fillStyle = '#333';
    ctx.font = "15px 'DejaVu Sans', sans-serif";
    ctx.letterSpacing = '1px';
    ctx.textBaseline = 'middle';
    notes.forEach(n => {
      ctx.textAlign = n[3] || 'center';
      ctx.fillText(n[0], x.getPixelForValue(n[1]), y.getPixelForValue(n[2]));
    });

    // galaxy type names
    ctx.letterSpacing = '0px';
    ctx.fillStyle = '#1e1e1e';
    ctx.font = "22px 'Liberation Sans', Arial, sans-serif";
    ctx.textAlign = 'center';
    ctx.textBaseline = 'alphabetic';
    names.forEach(n => ctx.fillText(n[0], x.getPixelForValue(n[1]), y.getPixelForValue(n[2])));

    // y axis label with subscript lambda
    ctx.translate(43, 387);
    ctx.rotate(-Math.PI / 2);
    ctx.fillStyle = '#222';
    ctx.letterSpacing = '2px';
    ctx.textBaseline = 'middle';
    ctx.textAlign = 'left';
    const big = "21px 'DejaVu Sans', sans-serif";
    const small = "15px 'DejaVu Sans', sans-serif";
    const p1 = 'flux F', p2 = 'λ', p3 = ' (arbitrary units)';
    ctx.font = big; const w1 = ctx.measureText(p1).width, w3 = ctx.measureText(p3).width;
    ctx.font = small; const w2 = ctx.measureText(p2).width;
    let cx = -(w1 + w2 + w3) / 2;
    ctx.font = big; ctx.fillText(p1, cx, 0); cx += w1;
    ctx.font = small; ctx.fillText(p2, cx, 6); cx += w2;
    ctx.font = big; ctx.fillText(p3, cx, 0);
    ctx.restore();
  }
};

new Chart(document.getElementById('chart'), {
  type: 'line',
  data: {
    datasets: [
      baseLine(base(baseEnd.starburst, offsets.starburst)),
      baseLine(base(baseEnd.sc, offsets.sc)),
      baseLine(base(baseEnd.sb, offsets.sb)),
      baseLine(base(baseEnd.s0, offsets.s0)),
      line(pts(starburst, offsets.starburst)),
      line(pts(sc, offsets.sc)),
      line(pts(sb, offsets.sb)),
      line(pts(s0, offsets.s0))
    ]
  },
  options: {
    responsive: false,
    animation: false,
    events: [],
    layout: { padding: { left: 82, right: 41, top: 24, bottom: 0 } },
    plugins: { legend: { display: false }, tooltip: { enabled: false } },
    scales: {
      x: {
        type: 'linear',
        min: 1000,
        max: 9950,
        afterBuildTicks: axis => { axis.ticks = xTicks.map(v => ({ value: v })); },
        afterFit: axis => { axis.height = 86; },
        grid: { display: false, drawTicks: false },
        border: { display: false },
        ticks: {
          autoSkip: false,
          maxRotation: 0,
          padding: 15,
          color: '#1a1a1a',
          font: { family: "'Liberation Sans', Arial, sans-serif", size: 22 },
          callback: v => xLabels.includes(v) ? String(v) : ''
        },
        title: {
          display: true,
          text: 'wavelength (Å)',
          color: '#222',
          padding: { top: 0, bottom: 7 },
          font: { family: "'DejaVu Sans', sans-serif", size: 21 }
        }
      },
      y: { display: false, min: -0.364, max: 14.78 }
    }
  },
  plugins: [decor]
});

// caption: serif text, justified lines
(function () {
  const lines = Array.from(document.querySelectorAll('#caption span.ln'));
  const widths = lines.map(l => l.getBoundingClientRect().width);
  const full = 825;
  const last = widths[widths.length - 1];
  let s = 299 / last;
  widths.slice(0, -1).forEach(w => { s = Math.min(s, full / w); });
  s = Math.max(0.7, Math.min(1.1, s));
  lines.forEach((l, i) => {
    if (i < lines.length - 1) {
      const gaps = l.textContent.split(' ').length - 1;
      const extra = (full / s - widths[i]) / gaps;
      l.style.wordSpacing = extra.toFixed(2) + 'px';
    }
    l.parentNode.style.transform = 'scaleX(' + s.toFixed(4) + ')';
  });
})();
</script>
</body>
</html>
